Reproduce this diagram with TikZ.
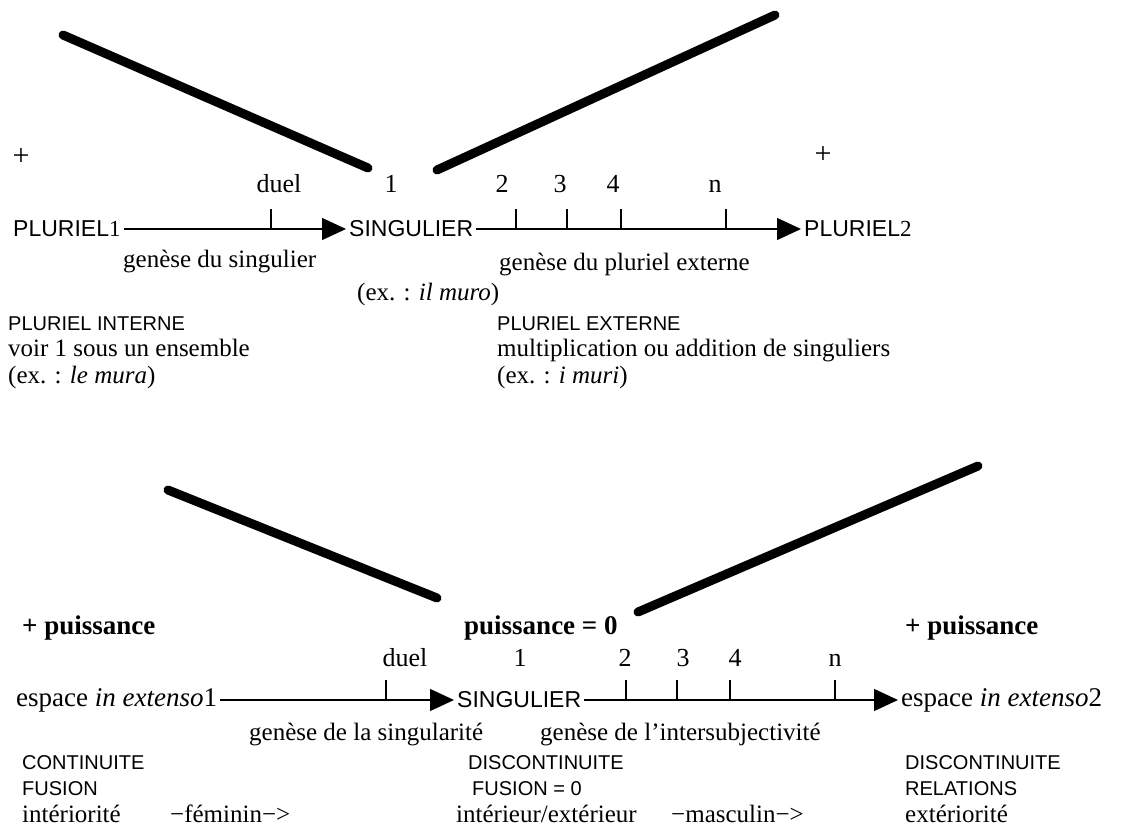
\documentclass[tikz,border=0pt]{standalone}
\usepackage{fontspec}
\setmainfont{Liberation Serif}
\newfontfamily\capsfont{Liberation Sans}
\usetikzlibrary{arrows.meta}
\begin{document}
\begin{tikzpicture}[x=1pt,y=-1pt,
  bar/.style={line width=9pt,line cap=round},
  axisline/.style={line width=1.3pt,-{Triangle[length=24pt,width=22pt]}},
  tickmark/.style={line width=1.6pt},
  body/.style={font=\fontsize{25}{28}\selectfont,inner sep=0pt},
  numlab/.style={font=\fontsize{26}{28}\selectfont,inner sep=0pt,anchor=mid},
  pluslab/.style={font=\fontsize{30}{32}\selectfont,inner sep=0pt,anchor=center},
  boldlab/.style={font=\fontsize{27}{30}\selectfont\bfseries,inner sep=0pt,anchor=mid west},
  bigcaps/.style={font=\fontsize{23}{26}\selectfont\capsfont,inner sep=3pt},
  smallcaps/.style={font=\fontsize{20}{24}\selectfont\capsfont,inner sep=0pt,anchor=mid west},
  txt/.style={body,anchor=mid west},
  espace/.style={font=\fontsize{27}{30}\selectfont,inner sep=3pt}]
\fill[white] (0,0) rectangle (1130,835);
\useasboundingbox (0,0) rectangle (1130,835);

% ---------------- top diagram ----------------
\draw[bar] (63,35) -- (368,168);
\draw[bar] (437,170) -- (775,15);
\node[pluslab] (plusA) at (21,157) {+};
\node[pluslab] (plusB) at (823,155) {+};

\node[numlab] (duelA) at (279,190) {duel};
\node[numlab] (oneA) at (391,190) {1};
\node[numlab] (twoA) at (502,190) {2};
\node[numlab] (threeA) at (560,190) {3};
\node[numlab] (fourA) at (613,190) {4};
\node[numlab] (nA) at (715,190) {n};

\node[bigcaps,anchor=west] (plA) at (10,229) {PLURIEL{\rmfamily 1}};
\node[bigcaps,anchor=west] (singA) at (346,229) {SINGULIER};
\node[bigcaps,anchor=west] (plB) at (801,229) {PLURIEL{\rmfamily 2}};
\draw[axisline] (plA.east) -- (singA.west);
\draw[axisline] (singA.east) -- (plB.west);
\foreach \x in {271,516,567,621,726} \draw[tickmark] (\x,229) -- (\x,209);

\node[txt] (genA) at (123,265) {genèse du singulier};
\node[txt] (exA) at (357,298) {(ex. : \textit{il muro})};
\node[txt] (genB) at (499,268) {genèse du pluriel externe};
\node[smallcaps] (piA) at (8,328) {PLURIEL INTERNE};
\node[txt] (voirA) at (8,354) {voir 1 sous un ensemble};
\node[txt] (exB) at (8,381) {(ex. : \textit{le mura})};
\node[smallcaps] (peA) at (497,328) {PLURIEL EXTERNE};
\node[txt] (multA) at (497,354) {multiplication ou addition de singuliers};
\node[txt] (exC) at (497,381) {(ex. : \textit{i muri})};

% ---------------- bottom diagram ----------------
\draw[bar] (168,490) -- (437,598);
\draw[bar] (638,612) -- (978,466);
\node[boldlab] (puisA) at (22,632) {+ puissance};
\node[boldlab] (puisB) at (464,632) {puissance = 0};
\node[boldlab] (puisC) at (905,632) {+ puissance};

\node[numlab] (duelB) at (405,664) {duel};
\node[numlab] (oneB) at (520,664) {1};
\node[numlab] (twoB) at (625,664) {2};
\node[numlab] (threeB) at (683,664) {3};
\node[numlab] (fourB) at (735,664) {4};
\node[numlab] (nB) at (835,664) {n};

\node[espace,anchor=west] (espA) at (13,700) {espace \textit{in extenso}1};
\node[bigcaps,anchor=west] (singB) at (454,700) {SINGULIER};
\node[espace,anchor=west] (espB) at (898,700) {espace \textit{in extenso}2};
\draw[axisline] (espA.east) -- (singB.west);
\draw[axisline] (singB.east) -- (espB.west);
\foreach \x in {386,626,677,730,835} \draw[tickmark] (\x,700) -- (\x,680);

\node[txt] (genC) at (249,738) {genèse de la singularité};
\node[txt] (genD) at (540,738) {genèse de l’intersubjectivité};

\node[smallcaps] (contA) at (22,767) {CONTINUITE};
\node[smallcaps] (fusA) at (22,793) {FUSION};
\node[txt] (intA) at (22,820) {intériorité};
\node[txt] (femA) at (170,820) {−féminin−>};

\node[smallcaps] (discA) at (468,767) {DISCONTINUITE};
\node[smallcaps] (fusB) at (472,793) {FUSION = 0};
\node[txt] (intB) at (456,820) {intérieur/extérieur};
\node[txt] (mascA) at (671,820) {−masculin−>};

\node[smallcaps] (discB) at (905,767) {DISCONTINUITE};
\node[smallcaps] (relA) at (905,793) {RELATIONS};
\node[txt] (extA) at (905,820) {extériorité};
\end{tikzpicture}
\end{document}
